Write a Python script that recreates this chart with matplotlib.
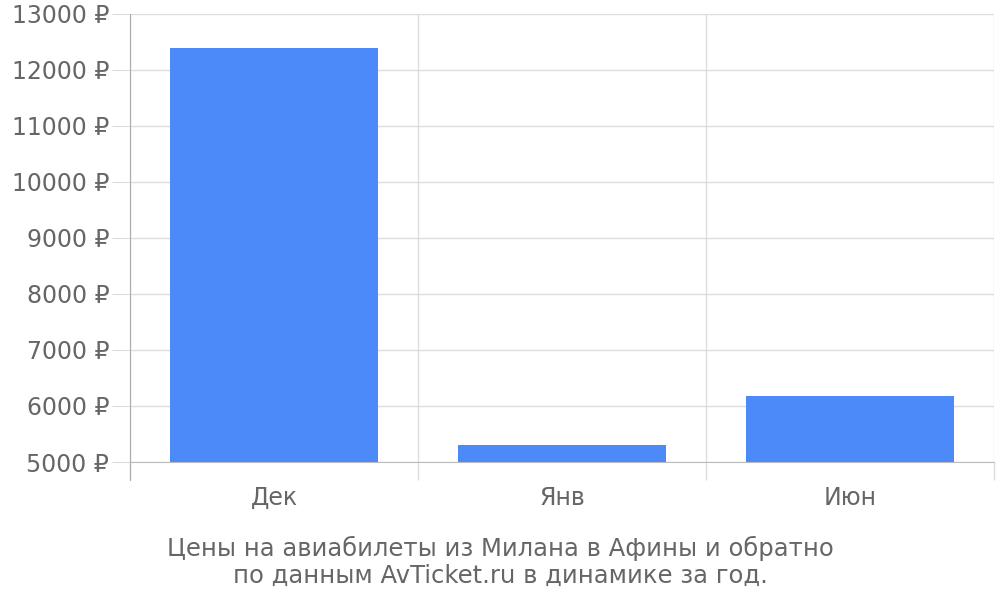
import matplotlib
matplotlib.use("Agg")
import matplotlib.pyplot as plt
from matplotlib.ticker import FixedLocator

categories = ["Дек", "Янв", "Июн"]
prices = [12400, 5300, 6180]
yticks = [5000, 6000, 7000, 8000, 9000, 10000, 11000, 12000, 13000]
caption = "Цены на авиабилеты из Милана в Афины и обратно\nпо данным AvTicket.ru в динамике за год."

plt.rcParams['font.family'] = ['DejaVu Sans']
fig = plt.figure(figsize=(10, 6), dpi=100)
ax = fig.add_axes([0.13, 0.23, 0.864, 0.7467])

x = list(range(len(categories)))
ax.bar(x, [p - 5000 for p in prices], bottom=5000, width=0.72, color="#4d8af9", zorder=3)

ax.set_xlim(-0.5, len(categories) - 0.5)
ax.set_ylim(5000, 13000)
ax.set_yticks(yticks)
ax.set_yticklabels([f"{v} ₽" for v in yticks])
ax.set_xticks(x)
ax.set_xticklabels(categories)
ax.xaxis.set_minor_locator(FixedLocator([i - 0.5 for i in range(len(categories) + 1)]))

ax.grid(axis="y", which="major", color="#dddddd", linewidth=1, zorder=0)
ax.grid(axis="x", which="minor", color="#dddddd", linewidth=1, zorder=0)

ax.tick_params(axis="y", which="major", length=13, color="#dddddd", labelsize=17, labelcolor="#666666", pad=2)
ax.tick_params(axis="x", which="major", length=0, labelsize=17, labelcolor="#666666", pad=17)
ax.tick_params(axis="x", which="minor", length=13, color="#dddddd", width=1)

for s in ["top", "right"]:
    ax.spines[s].set_visible(False)
ax.spines["left"].set_color("#aaaaaa")
ax.spines["bottom"].set_color("#bbbbbb")
ax.spines["left"].set_bounds(4680, 13000)

fig.text(0.5, 0.063, caption, ha="center", va="center", fontsize=17.5, color="#666666", linespacing=1.15)

fig.savefig("out.png", dpi=100)
